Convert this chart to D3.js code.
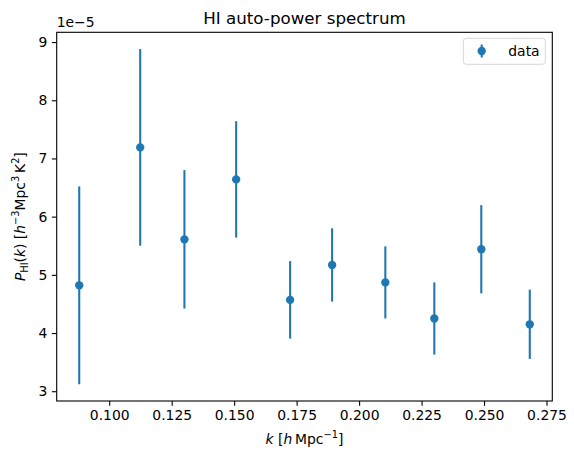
<!DOCTYPE html>
<html>
<head>
<meta charset="utf-8">
<script src="https://cdn.jsdelivr.net/npm/d3@7"></script>
<style>
  body { margin: 0; background: #fff; }
  svg { display: block; font-family: "DejaVu Sans", sans-serif; }
</style>
</head>
<body>
<svg></svg>
<script>
// data (k in h/Mpc, P in h^-3 Mpc^3 K^2)
var kValues = [0.0880, 0.1124, 0.1301, 0.1508, 0.1724, 0.1892, 0.2105, 0.2301, 0.2489, 0.2683];
var pValues = [4.82e-5, 7.19e-5, 5.61e-5, 6.64e-5, 4.57e-5, 5.17e-5, 4.87e-5, 4.25e-5, 5.44e-5, 4.15e-5];
var pErrors = [1.70e-5, 1.69e-5, 1.19e-5, 1.00e-5, 0.666e-5, 0.63e-5, 0.62e-5, 0.62e-5, 0.758e-5, 0.595e-5];
var xTicks = [0.100, 0.125, 0.150, 0.175, 0.200, 0.225, 0.250, 0.275];
var yTicks = [3e-5, 4e-5, 5e-5, 6e-5, 7e-5, 8e-5, 9e-5];

var width = 574, height = 462;
// plot box (note: "top" is taken by window.top, so use other names)
var mLeft = 56.7, mRight = 552.3, mTop = 32.3, mBottom = 401;
var blue = "#1f77b4";

var svg = d3.select("svg").attr("width", width).attr("height", height);

var points = kValues.map(function(k, i) {
  return { k: k, p: pValues[i], err: pErrors[i] };
});

// matplotlib style 5% margins
var kMin = d3.min(kValues), kMax = d3.max(kValues);
var kPad = (kMax - kMin) * 0.05;
var lo = d3.min(points, function(d) { return d.p - d.err; });
var hi = d3.max(points, function(d) { return d.p + d.err; });
var pPad = (hi - lo) * 0.05;

var xScale = d3.scaleLinear()
  .domain([kMin - kPad, kMax + kPad])
  .range([mLeft, mRight]);
var yScale = d3.scaleLinear()
  .domain([lo - pPad, hi + pPad])
  .range([mBottom, mTop]);

// axes
var xAxis = svg.append("g")
  .attr("transform", "translate(0," + mBottom + ")")
  .call(d3.axisBottom(xScale).tickValues(xTicks).tickFormat(d3.format(".3f"))
    .tickSize(4.86).tickPadding(4.5));
var yAxis = svg.append("g")
  .attr("transform", "translate(" + mLeft + ",0)")
  .call(d3.axisLeft(yScale).tickValues(yTicks)
    .tickFormat(function(d) { return Math.round(d / 1e-5); })
    .tickSize(4.86).tickPadding(4.5));

[xAxis, yAxis].forEach(function(g) {
  g.select(".domain").remove();
  g.selectAll(".tick line").attr("stroke", "#000").attr("stroke-width", 1.1);
  g.selectAll(".tick text")
    .attr("fill", "#000")
    .style("font-size", "13.9px")
    .style("font-family", "DejaVu Sans");
});

// frame
svg.append("rect")
  .attr("x", mLeft).attr("y", mTop)
  .attr("width", mRight - mLeft).attr("height", mBottom - mTop)
  .attr("fill", "none").attr("stroke", "#000").attr("stroke-width", 1.1);

// error bars + markers
var marks = svg.append("g").selectAll("g")
  .data(points)
  .enter().append("g");

marks.append("line")
  .attr("x1", function(d) { return xScale(d.k); })
  .attr("x2", function(d) { return xScale(d.k); })
  .attr("y1", function(d) { return yScale(d.p - d.err); })
  .attr("y2", function(d) { return yScale(d.p + d.err); })
  .attr("stroke", blue)
  .attr("stroke-width", 2.08);

marks.append("circle")
  .attr("cx", function(d) { return xScale(d.k); })
  .attr("cy", function(d) { return yScale(d.p); })
  .attr("r", 4.17)
  .attr("fill", blue);

// title
svg.append("text")
  .attr("x", (mLeft + mRight) / 2).attr("y", 24)
  .attr("text-anchor", "middle")
  .style("font-size", "16.7px")
  .text("HI auto-power spectrum");

// offset text
svg.append("text")
  .attr("x", mLeft).attr("y", 27)
  .style("font-size", "13.9px")
  .text("1e\u22125");

// x label
var xl = svg.append("text")
  .attr("x", (mLeft + mRight) / 2).attr("y", 444)
  .attr("text-anchor", "middle")
  .style("font-size", "13.9px");
xl.append("tspan").attr("font-style", "italic").text("k");
xl.append("tspan").text(" [");
xl.append("tspan").attr("font-style", "italic").text("h");
xl.append("tspan").text("\u2009Mpc");
xl.append("tspan").attr("dy", -6).style("font-size", "9.8px").text("\u22121");
xl.append("tspan").attr("dy", 6).text("]");

// y label
var yl = svg.append("text")
  .attr("transform", "translate(25," + ((mTop + mBottom) / 2) + ") rotate(-90)")
  .attr("text-anchor", "middle")
  .style("font-size", "13.9px");
yl.append("tspan").attr("font-style", "italic").text("P");
yl.append("tspan").attr("dy", 2.5).style("font-size", "9.8px").text("HI");
yl.append("tspan").attr("dy", -2.5).text("(");
yl.append("tspan").attr("font-style", "italic").text("k");
yl.append("tspan").text(") [");
yl.append("tspan").attr("font-style", "italic").text("h");
yl.append("tspan").attr("dy", -6).style("font-size", "9.8px").text("\u22123");
yl.append("tspan").attr("dy", 6).text("Mpc");
yl.append("tspan").attr("dy", -6).style("font-size", "9.8px").text("3");
yl.append("tspan").attr("dy", 6).text("\u2009K");
yl.append("tspan").attr("dy", -6).style("font-size", "9.8px").text("2");
yl.append("tspan").attr("dy", 6).text("]");

// legend
var legend = svg.append("g");
legend.append("rect")
  .attr("x", 463.3).attr("y", 38.3)
  .attr("width", 82).attr("height", 26)
  .attr("rx", 3)
  .attr("fill", "#fff").attr("fill-opacity", 0.8)
  .attr("stroke", "#d6d6d6").attr("stroke-width", 1);
legend.append("line")
  .attr("x1", 481.7).attr("x2", 481.7)
  .attr("y1", 44.5).attr("y2", 57.5)
  .attr("stroke", blue).attr("stroke-width", 2.08);
legend.append("circle")
  .attr("cx", 481.7).attr("cy", 51)
  .attr("r", 4.17).attr("fill", blue);
legend.append("text")
  .attr("x", 508.3).attr("y", 56)
  .style("font-size", "13.9px")
  .text("data");
</script>
</body>
</html>
